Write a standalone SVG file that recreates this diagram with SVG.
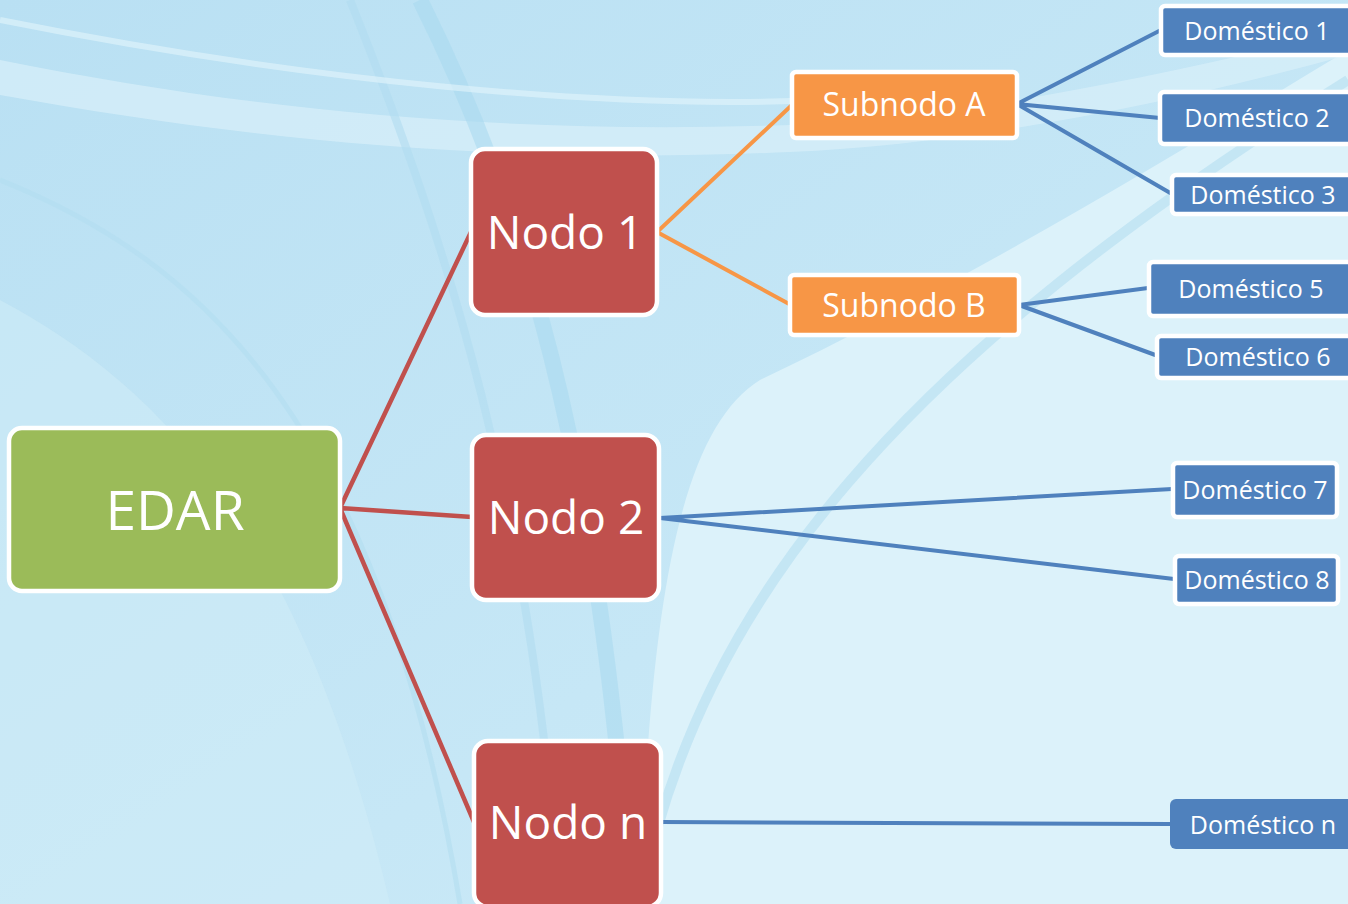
<svg xmlns="http://www.w3.org/2000/svg" width="1348" height="904" viewBox="0 0 1348 904">
<defs>
<linearGradient id="ul" x1="0" y1="0" x2="1" y2="1">
<stop offset="0" stop-color="#b9e0f3"/>
<stop offset="0.6" stop-color="#c6e7f6"/>
<stop offset="1" stop-color="#cfecf8"/>
</linearGradient>
<style>
.box{stroke:#ffffff;stroke-width:4.5}
.edar{fill:#9bbb59}
.nodo{fill:#c0504d}
.sub{fill:#f79646}
.dom{fill:#4f81bd}
.t{font-family:"Open Sans","Noto Sans",sans-serif;fill:#ffffff;text-anchor:middle;dominant-baseline:central}
.red{stroke:#c0504d;stroke-width:4.5;fill:none}
.org{stroke:#f79646;stroke-width:4;fill:none}
.blu{stroke:#4f81bd;stroke-width:4;fill:none}
.sw{fill:none}
</style>
</defs>
<g id="background">
<rect width="1348" height="904" fill="#dcf2fa"/>
<path d="M0 0 L1348 0 L1348 50 C 1150 170, 950 290, 760 380 C 680 430, 650 600, 640 904 L0 904 Z" fill="url(#ul)"/>
<path d="M0 60 C 250 110, 500 135, 790 125 C 950 118, 1150 80, 1348 30 L1348 55 C 1150 110, 950 145, 790 152 C 500 165, 250 140, 0 95 Z" fill="#d8f0fa" opacity="0.7"/>
<path d="M0 300 C 150 380, 300 520, 390 904 L0 904 Z" fill="#d2edf8" opacity="0.5"/>
<path class="sw" stroke="#a8d8ee" stroke-width="16" opacity="0.55" d="M420 0 C 520 200, 600 450, 630 904"/>
<path class="sw" stroke="#b0dcf0" stroke-width="8" opacity="0.6" d="M350 0 C 450 250, 530 500, 560 904"/>
<path class="sw" stroke="#b3ddf0" stroke-width="5" opacity="0.6" d="M0 180 C 200 260, 380 420, 460 904"/>
<path class="sw" stroke="#e3f5fc" stroke-width="6" opacity="0.6" d="M0 20 C 300 80, 600 110, 820 100"/>
<path class="sw" stroke="#a6d7ee" stroke-width="10" opacity="0.45" d="M640 900 C 700 600, 900 360, 1348 80"/>
</g>
<g id="connectors">
<path class="red" d="M340 508 L471 232 M340 508 L472 517 M340 508 L474 822"/>
<path class="org" d="M793 104 L657 232 L791 305"/>
<path class="blu" d="M1161 30 L1017 104 L1160 118 M1017 104 L1172 194"/>
<path class="blu" d="M1148 288 L1019 305 L1158 356"/>
<path class="blu" d="M1172 489 L660 518 L1174 579"/>
<path class="blu" d="M661 822 L1171 824"/>
</g>
<g id="edar"><rect class="box edar" x="9" y="428" width="331" height="163" rx="13"/><text class="t" x="175" y="508" font-size="55">EDAR</text></g>
<g id="nodo1"><rect class="box nodo" x="471" y="149" width="186" height="166" rx="14"/><text class="t" x="565" y="231" font-size="46">Nodo 1</text></g>
<g id="nodo2"><rect class="box nodo" x="472" y="435" width="187" height="165" rx="14"/><text class="t" x="566" y="516" font-size="46">Nodo 2</text></g>
<g id="nodon"><rect class="box nodo" x="474" y="741" width="187" height="166" rx="14"/><text class="t" x="568" y="821" font-size="46">Nodo n</text></g>
<g id="subA"><rect class="box sub" x="792" y="72" width="225" height="66" rx="4"/><text class="t" x="904" y="103" font-size="32">Subnodo A</text></g>
<g id="subB"><rect class="box sub" x="790" y="275" width="229" height="60" rx="4"/><text class="t" x="904" y="304" font-size="32">Subnodo B</text></g>
<g id="dom1"><rect class="box dom" x="1161" y="6" width="200" height="49" rx="4"/><text class="t" x="1257" y="30" font-size="25">Doméstico 1</text></g>
<g id="dom2"><rect class="box dom" x="1160" y="92" width="200" height="52" rx="4"/><text class="t" x="1257" y="117" font-size="25">Doméstico 2</text></g>
<g id="dom3"><rect class="box dom" x="1172" y="175" width="190" height="39" rx="4"/><text class="t" x="1263" y="194" font-size="25">Doméstico 3</text></g>
<g id="dom5"><rect class="box dom" x="1149" y="262" width="210" height="54" rx="4"/><text class="t" x="1251" y="288" font-size="25">Doméstico 5</text></g>
<g id="dom6"><rect class="box dom" x="1157" y="336" width="200" height="42" rx="4"/><text class="t" x="1258" y="356" font-size="25">Doméstico 6</text></g>
<g id="dom7"><rect class="box dom" x="1173" y="463" width="164" height="54" rx="4"/><text class="t" x="1255" y="489" font-size="25">Doméstico 7</text></g>
<g id="dom8"><rect class="box dom" x="1175" y="556" width="163" height="48" rx="4"/><text class="t" x="1257" y="579" font-size="25">Doméstico 8</text></g>
<g id="domn"><rect class="dom" x="1170" y="799" width="190" height="50" rx="6"/><text class="t" x="1263" y="824" font-size="25">Doméstico n</text></g>
</svg>
